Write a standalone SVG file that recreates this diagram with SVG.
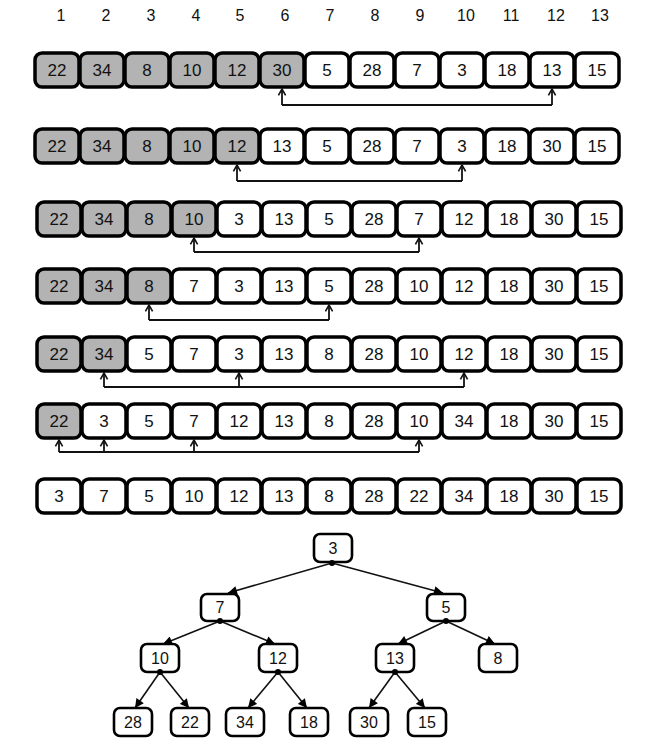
<svg xmlns="http://www.w3.org/2000/svg" width="653" height="742" viewBox="0 0 653 742">
<defs>
<style>
.hdr{font-family:"Liberation Sans",Arial,sans-serif;font-size:16px;fill:#111;text-anchor:middle;dominant-baseline:central}
.cell rect{stroke:#000;stroke-width:3.5;fill:#fff}
.cell.g rect{fill:#b3b3b3}
.cell text,.tn text{font-family:"Liberation Sans",Arial,sans-serif;font-size:17px;fill:#111;text-anchor:middle;dominant-baseline:central}
.tn rect{stroke:#000;stroke-width:2.6;fill:#fff}
.tn text{font-size:16px}
.br{fill:none;stroke:#111;stroke-width:1.8}
.tl{stroke:#111;stroke-width:1.6;fill:none}
.dot{fill:#000}
</style>
<marker id="ov" viewBox="0 0 10 10" refX="9" refY="5" markerWidth="8" markerHeight="10" markerUnits="userSpaceOnUse" orient="auto">
<path d="M1,0.5 L9,5 L1,9.5" fill="none" stroke="#111" stroke-width="2"/>
</marker>
<marker id="ft" viewBox="0 0 10 10" refX="10" refY="5" markerWidth="10" markerHeight="9" markerUnits="userSpaceOnUse" orient="auto">
<path d="M0,0 L10,5 L0,10 Z" fill="#000"/>
</marker>
</defs>
<rect width="653" height="742" fill="#fff"/>

<g id="header">
<text class="hdr" x="61" y="15">1</text>
<text class="hdr" x="106" y="15">2</text>
<text class="hdr" x="151" y="15">3</text>
<text class="hdr" x="196" y="15">4</text>
<text class="hdr" x="240" y="15">5</text>
<text class="hdr" x="285" y="15">6</text>
<text class="hdr" x="330" y="15">7</text>
<text class="hdr" x="375" y="15">8</text>
<text class="hdr" x="420" y="15">9</text>
<text class="hdr" x="466" y="15">10</text>
<text class="hdr" x="511" y="15">11</text>
<text class="hdr" x="556" y="15">12</text>
<text class="hdr" x="600" y="15">13</text>
</g>

<g id="row1" transform="translate(35,53)">
<g class="cell g"><rect x="0" y="0" width="44" height="34" rx="7"/><text x="22" y="17">22</text></g>
<g class="cell g"><rect x="45" y="0" width="44" height="34" rx="7"/><text x="67" y="17">34</text></g>
<g class="cell g"><rect x="90" y="0" width="44" height="34" rx="7"/><text x="112" y="17">8</text></g>
<g class="cell g"><rect x="135" y="0" width="44" height="34" rx="7"/><text x="157" y="17">10</text></g>
<g class="cell g"><rect x="180" y="0" width="44" height="34" rx="7"/><text x="202" y="17">12</text></g>
<g class="cell g"><rect x="225" y="0" width="44" height="34" rx="7"/><text x="247" y="17">30</text></g>
<g class="cell"><rect x="270" y="0" width="44" height="34" rx="7"/><text x="292" y="17">5</text></g>
<g class="cell"><rect x="315" y="0" width="44" height="34" rx="7"/><text x="337" y="17">28</text></g>
<g class="cell"><rect x="360" y="0" width="44" height="34" rx="7"/><text x="382" y="17">7</text></g>
<g class="cell"><rect x="405" y="0" width="44" height="34" rx="7"/><text x="427" y="17">3</text></g>
<g class="cell"><rect x="450" y="0" width="44" height="34" rx="7"/><text x="472" y="17">18</text></g>
<g class="cell"><rect x="495" y="0" width="44" height="34" rx="7"/><text x="517" y="17">13</text></g>
<g class="cell"><rect x="540" y="0" width="44" height="34" rx="7"/><text x="562" y="17">15</text></g>
</g>

<g id="row2" transform="translate(35,129)">
<g class="cell g"><rect x="0" y="0" width="44" height="34" rx="7"/><text x="22" y="17">22</text></g>
<g class="cell g"><rect x="45" y="0" width="44" height="34" rx="7"/><text x="67" y="17">34</text></g>
<g class="cell g"><rect x="90" y="0" width="44" height="34" rx="7"/><text x="112" y="17">8</text></g>
<g class="cell g"><rect x="135" y="0" width="44" height="34" rx="7"/><text x="157" y="17">10</text></g>
<g class="cell g"><rect x="180" y="0" width="44" height="34" rx="7"/><text x="202" y="17">12</text></g>
<g class="cell"><rect x="225" y="0" width="44" height="34" rx="7"/><text x="247" y="17">13</text></g>
<g class="cell"><rect x="270" y="0" width="44" height="34" rx="7"/><text x="292" y="17">5</text></g>
<g class="cell"><rect x="315" y="0" width="44" height="34" rx="7"/><text x="337" y="17">28</text></g>
<g class="cell"><rect x="360" y="0" width="44" height="34" rx="7"/><text x="382" y="17">7</text></g>
<g class="cell"><rect x="405" y="0" width="44" height="34" rx="7"/><text x="427" y="17">3</text></g>
<g class="cell"><rect x="450" y="0" width="44" height="34" rx="7"/><text x="472" y="17">18</text></g>
<g class="cell"><rect x="495" y="0" width="44" height="34" rx="7"/><text x="517" y="17">30</text></g>
<g class="cell"><rect x="540" y="0" width="44" height="34" rx="7"/><text x="562" y="17">15</text></g>
</g>

<g id="row3" transform="translate(37,202)">
<g class="cell g"><rect x="0" y="0" width="44" height="34" rx="7"/><text x="22" y="17">22</text></g>
<g class="cell g"><rect x="45" y="0" width="44" height="34" rx="7"/><text x="67" y="17">34</text></g>
<g class="cell g"><rect x="90" y="0" width="44" height="34" rx="7"/><text x="112" y="17">8</text></g>
<g class="cell g"><rect x="135" y="0" width="44" height="34" rx="7"/><text x="157" y="17">10</text></g>
<g class="cell"><rect x="180" y="0" width="44" height="34" rx="7"/><text x="202" y="17">3</text></g>
<g class="cell"><rect x="225" y="0" width="44" height="34" rx="7"/><text x="247" y="17">13</text></g>
<g class="cell"><rect x="270" y="0" width="44" height="34" rx="7"/><text x="292" y="17">5</text></g>
<g class="cell"><rect x="315" y="0" width="44" height="34" rx="7"/><text x="337" y="17">28</text></g>
<g class="cell"><rect x="360" y="0" width="44" height="34" rx="7"/><text x="382" y="17">7</text></g>
<g class="cell"><rect x="405" y="0" width="44" height="34" rx="7"/><text x="427" y="17">12</text></g>
<g class="cell"><rect x="450" y="0" width="44" height="34" rx="7"/><text x="472" y="17">18</text></g>
<g class="cell"><rect x="495" y="0" width="44" height="34" rx="7"/><text x="517" y="17">30</text></g>
<g class="cell"><rect x="540" y="0" width="44" height="34" rx="7"/><text x="562" y="17">15</text></g>
</g>

<g id="row4" transform="translate(37,269)">
<g class="cell g"><rect x="0" y="0" width="44" height="34" rx="7"/><text x="22" y="17">22</text></g>
<g class="cell g"><rect x="45" y="0" width="44" height="34" rx="7"/><text x="67" y="17">34</text></g>
<g class="cell g"><rect x="90" y="0" width="44" height="34" rx="7"/><text x="112" y="17">8</text></g>
<g class="cell"><rect x="135" y="0" width="44" height="34" rx="7"/><text x="157" y="17">7</text></g>
<g class="cell"><rect x="180" y="0" width="44" height="34" rx="7"/><text x="202" y="17">3</text></g>
<g class="cell"><rect x="225" y="0" width="44" height="34" rx="7"/><text x="247" y="17">13</text></g>
<g class="cell"><rect x="270" y="0" width="44" height="34" rx="7"/><text x="292" y="17">5</text></g>
<g class="cell"><rect x="315" y="0" width="44" height="34" rx="7"/><text x="337" y="17">28</text></g>
<g class="cell"><rect x="360" y="0" width="44" height="34" rx="7"/><text x="382" y="17">10</text></g>
<g class="cell"><rect x="405" y="0" width="44" height="34" rx="7"/><text x="427" y="17">12</text></g>
<g class="cell"><rect x="450" y="0" width="44" height="34" rx="7"/><text x="472" y="17">18</text></g>
<g class="cell"><rect x="495" y="0" width="44" height="34" rx="7"/><text x="517" y="17">30</text></g>
<g class="cell"><rect x="540" y="0" width="44" height="34" rx="7"/><text x="562" y="17">15</text></g>
</g>

<g id="row5" transform="translate(37,337)">
<g class="cell g"><rect x="0" y="0" width="44" height="34" rx="7"/><text x="22" y="17">22</text></g>
<g class="cell g"><rect x="45" y="0" width="44" height="34" rx="7"/><text x="67" y="17">34</text></g>
<g class="cell"><rect x="90" y="0" width="44" height="34" rx="7"/><text x="112" y="17">5</text></g>
<g class="cell"><rect x="135" y="0" width="44" height="34" rx="7"/><text x="157" y="17">7</text></g>
<g class="cell"><rect x="180" y="0" width="44" height="34" rx="7"/><text x="202" y="17">3</text></g>
<g class="cell"><rect x="225" y="0" width="44" height="34" rx="7"/><text x="247" y="17">13</text></g>
<g class="cell"><rect x="270" y="0" width="44" height="34" rx="7"/><text x="292" y="17">8</text></g>
<g class="cell"><rect x="315" y="0" width="44" height="34" rx="7"/><text x="337" y="17">28</text></g>
<g class="cell"><rect x="360" y="0" width="44" height="34" rx="7"/><text x="382" y="17">10</text></g>
<g class="cell"><rect x="405" y="0" width="44" height="34" rx="7"/><text x="427" y="17">12</text></g>
<g class="cell"><rect x="450" y="0" width="44" height="34" rx="7"/><text x="472" y="17">18</text></g>
<g class="cell"><rect x="495" y="0" width="44" height="34" rx="7"/><text x="517" y="17">30</text></g>
<g class="cell"><rect x="540" y="0" width="44" height="34" rx="7"/><text x="562" y="17">15</text></g>
</g>

<g id="row6" transform="translate(37,404)">
<g class="cell g"><rect x="0" y="0" width="44" height="34" rx="7"/><text x="22" y="17">22</text></g>
<g class="cell"><rect x="45" y="0" width="44" height="34" rx="7"/><text x="67" y="17">3</text></g>
<g class="cell"><rect x="90" y="0" width="44" height="34" rx="7"/><text x="112" y="17">5</text></g>
<g class="cell"><rect x="135" y="0" width="44" height="34" rx="7"/><text x="157" y="17">7</text></g>
<g class="cell"><rect x="180" y="0" width="44" height="34" rx="7"/><text x="202" y="17">12</text></g>
<g class="cell"><rect x="225" y="0" width="44" height="34" rx="7"/><text x="247" y="17">13</text></g>
<g class="cell"><rect x="270" y="0" width="44" height="34" rx="7"/><text x="292" y="17">8</text></g>
<g class="cell"><rect x="315" y="0" width="44" height="34" rx="7"/><text x="337" y="17">28</text></g>
<g class="cell"><rect x="360" y="0" width="44" height="34" rx="7"/><text x="382" y="17">10</text></g>
<g class="cell"><rect x="405" y="0" width="44" height="34" rx="7"/><text x="427" y="17">34</text></g>
<g class="cell"><rect x="450" y="0" width="44" height="34" rx="7"/><text x="472" y="17">18</text></g>
<g class="cell"><rect x="495" y="0" width="44" height="34" rx="7"/><text x="517" y="17">30</text></g>
<g class="cell"><rect x="540" y="0" width="44" height="34" rx="7"/><text x="562" y="17">15</text></g>
</g>

<g id="row7" transform="translate(37,479)">
<g class="cell"><rect x="0" y="0" width="44" height="34" rx="7"/><text x="22" y="17">3</text></g>
<g class="cell"><rect x="45" y="0" width="44" height="34" rx="7"/><text x="67" y="17">7</text></g>
<g class="cell"><rect x="90" y="0" width="44" height="34" rx="7"/><text x="112" y="17">5</text></g>
<g class="cell"><rect x="135" y="0" width="44" height="34" rx="7"/><text x="157" y="17">10</text></g>
<g class="cell"><rect x="180" y="0" width="44" height="34" rx="7"/><text x="202" y="17">12</text></g>
<g class="cell"><rect x="225" y="0" width="44" height="34" rx="7"/><text x="247" y="17">13</text></g>
<g class="cell"><rect x="270" y="0" width="44" height="34" rx="7"/><text x="292" y="17">8</text></g>
<g class="cell"><rect x="315" y="0" width="44" height="34" rx="7"/><text x="337" y="17">28</text></g>
<g class="cell"><rect x="360" y="0" width="44" height="34" rx="7"/><text x="382" y="17">22</text></g>
<g class="cell"><rect x="405" y="0" width="44" height="34" rx="7"/><text x="427" y="17">34</text></g>
<g class="cell"><rect x="450" y="0" width="44" height="34" rx="7"/><text x="472" y="17">18</text></g>
<g class="cell"><rect x="495" y="0" width="44" height="34" rx="7"/><text x="517" y="17">30</text></g>
<g class="cell"><rect x="540" y="0" width="44" height="34" rx="7"/><text x="562" y="17">15</text></g>
</g>

<g id="tree-nodes">
<g id="t3" class="tn"><rect x="314" y="534" width="38" height="28" rx="6"/><text x="333" y="548">3</text></g>
<g id="t7" class="tn"><rect x="201" y="594" width="38" height="27" rx="6"/><text x="220" y="607">7</text></g>
<g id="t5" class="tn"><rect x="427" y="594" width="38" height="27" rx="6"/><text x="446" y="607">5</text></g>
<g id="t10" class="tn"><rect x="141" y="644" width="38" height="28" rx="6"/><text x="160" y="658">10</text></g>
<g id="t12" class="tn"><rect x="259" y="644" width="38" height="28" rx="6"/><text x="278" y="658">12</text></g>
<g id="t13" class="tn"><rect x="376" y="644" width="38" height="28" rx="6"/><text x="395" y="658">13</text></g>
<g id="t8" class="tn"><rect x="479" y="644" width="38" height="28" rx="6"/><text x="498" y="658">8</text></g>
<g id="t28" class="tn"><rect x="114" y="708" width="38" height="28" rx="6"/><text x="133" y="722">28</text></g>
<g id="t22" class="tn"><rect x="171" y="708" width="38" height="28" rx="6"/><text x="190" y="722">22</text></g>
<g id="t34" class="tn"><rect x="226" y="708" width="38" height="28" rx="6"/><text x="245" y="722">34</text></g>
<g id="t18" class="tn"><rect x="290" y="708" width="38" height="28" rx="6"/><text x="309" y="722">18</text></g>
<g id="t30" class="tn"><rect x="350" y="708" width="38" height="28" rx="6"/><text x="369" y="722">30</text></g>
<g id="t15" class="tn"><rect x="408" y="708" width="38" height="28" rx="6"/><text x="427" y="722">15</text></g>
</g>

<g id="connectors">
<path class="br" d="M282,105 H552"/>
<line class="br" x1="282" y1="105" x2="282" y2="89" marker-end="url(#ov)"/>
<line class="br" x1="552" y1="105" x2="552" y2="89" marker-end="url(#ov)"/>

<path class="br" d="M237,181 H462"/>
<line class="br" x1="237" y1="181" x2="237" y2="165" marker-end="url(#ov)"/>
<line class="br" x1="462" y1="181" x2="462" y2="165" marker-end="url(#ov)"/>

<path class="br" d="M194,252 H419"/>
<line class="br" x1="194" y1="252" x2="194" y2="238" marker-end="url(#ov)"/>
<line class="br" x1="419" y1="252" x2="419" y2="238" marker-end="url(#ov)"/>

<path class="br" d="M149,320 H329"/>
<line class="br" x1="149" y1="320" x2="149" y2="305" marker-end="url(#ov)"/>
<line class="br" x1="329" y1="320" x2="329" y2="305" marker-end="url(#ov)"/>

<path class="br" d="M104,387 H464"/>
<line class="br" x1="104" y1="387" x2="104" y2="373" marker-end="url(#ov)"/>
<line class="br" x1="239" y1="387" x2="239" y2="373" marker-end="url(#ov)"/>
<line class="br" x1="464" y1="387" x2="464" y2="373" marker-end="url(#ov)"/>

<path class="br" d="M59,452 H419"/>
<line class="br" x1="59" y1="452" x2="59" y2="440" marker-end="url(#ov)"/>
<line class="br" x1="104" y1="452" x2="104" y2="440" marker-end="url(#ov)"/>
<line class="br" x1="194" y1="452" x2="194" y2="440" marker-end="url(#ov)"/>
<line class="br" x1="419" y1="452" x2="419" y2="440" marker-end="url(#ov)"/>

<line class="tl" x1="332" y1="563" x2="228" y2="593" marker-end="url(#ft)"/>
<line class="tl" x1="332" y1="563" x2="443" y2="593" marker-end="url(#ft)"/>
<line class="tl" x1="220" y1="621" x2="163" y2="644" marker-end="url(#ft)"/>
<line class="tl" x1="220" y1="621" x2="275" y2="644" marker-end="url(#ft)"/>
<line class="tl" x1="446" y1="621" x2="398" y2="644" marker-end="url(#ft)"/>
<line class="tl" x1="446" y1="621" x2="495" y2="644" marker-end="url(#ft)"/>
<line class="tl" x1="160" y1="672" x2="135" y2="708" marker-end="url(#ft)"/>
<line class="tl" x1="160" y1="672" x2="189" y2="708" marker-end="url(#ft)"/>
<line class="tl" x1="278" y1="672" x2="248" y2="708" marker-end="url(#ft)"/>
<line class="tl" x1="278" y1="672" x2="307" y2="708" marker-end="url(#ft)"/>
<line class="tl" x1="395" y1="672" x2="369" y2="708" marker-end="url(#ft)"/>
<line class="tl" x1="395" y1="672" x2="425" y2="708" marker-end="url(#ft)"/>
<circle class="dot" cx="332" cy="563" r="3"/>
<circle class="dot" cx="220" cy="621" r="3"/>
<circle class="dot" cx="446" cy="621" r="3"/>
<circle class="dot" cx="160" cy="672" r="3"/>
<circle class="dot" cx="278" cy="672" r="3"/>
<circle class="dot" cx="395" cy="672" r="3"/>
</g>
</svg>
